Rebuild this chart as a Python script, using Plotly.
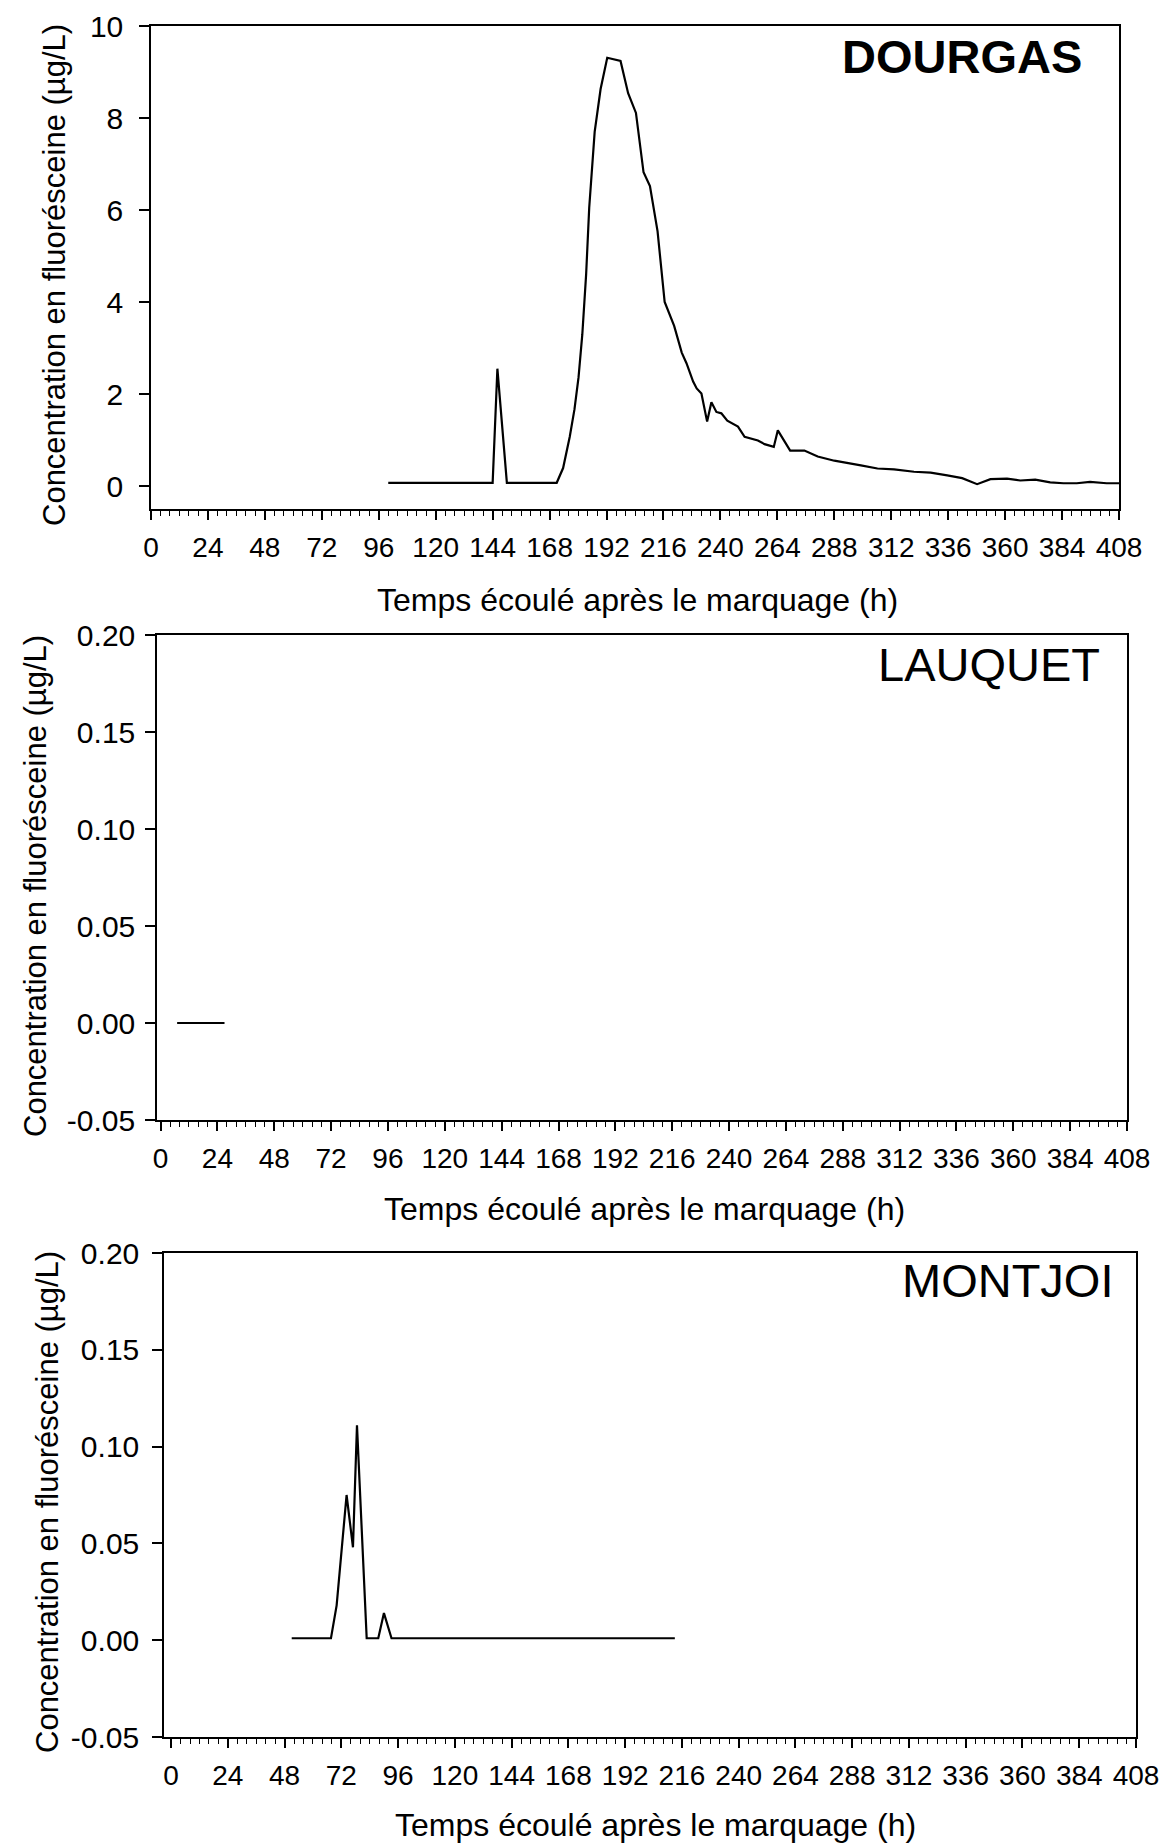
import plotly.graph_objects as go

W, H = 1161, 1847

# ---------------- data ----------------
x_ticks = list(range(0, 409, 24))

dourgas_h = [100, 144, 146, 150, 171, 173.7, 176.5, 178.5, 180.2, 181.8, 183.4, 184.7,
             187, 189.5, 192.3, 197.9, 201.1, 204.4, 207.6, 210.3, 213.5, 216.5, 220.5,
             223.7, 225.7, 228.5, 230, 232, 234.4, 236.2, 238.3, 240.4, 242.9, 245.3,
             247.4, 250.2, 253, 255.8, 258.6, 262.5, 264.2, 266.3, 269.4, 275.4, 281,
             288, 292.9, 299.2, 306.2, 313.2, 321.6, 328.6, 335.6, 341.9, 348.2, 353.8,
             360.8, 366.4, 372.7, 379, 384.6, 390.2, 395.8, 402.8, 408]
dourgas_c = [0.07, 0.07, 2.55, 0.07, 0.07, 0.39, 1.07, 1.67, 2.36, 3.3, 4.6, 6.05,
             7.7, 8.63, 9.31, 9.24, 8.54, 8.11, 6.82, 6.52, 5.54, 4.0, 3.48,
             2.9, 2.67, 2.27, 2.12, 2.01, 1.4, 1.82, 1.61, 1.58, 1.42, 1.36,
             1.29, 1.07, 1.03, 0.99, 0.91, 0.85, 1.21, 1.02, 0.77, 0.77, 0.64,
             0.55, 0.51, 0.45, 0.38, 0.36, 0.31, 0.29, 0.23, 0.17, 0.04, 0.15,
             0.16, 0.12, 0.14, 0.08, 0.06, 0.06, 0.09, 0.06, 0.06]

lauquet_h = [7, 27]
lauquet_c = [0.0, 0.0]

montjoi_h = [51, 67.6, 70, 74.2, 76.9, 78.6, 82.7, 87.6, 90, 93.2, 213]
montjoi_c = [0.001, 0.001, 0.018, 0.075, 0.048, 0.111, 0.001, 0.001, 0.014, 0.001, 0.001]

stations = ["DOURGAS", "LAUQUET", "MONTJOI"]
x_title = "Temps écoulé après le marquage (h)"
y_title = "Concentration en fluorésceine (µg/L)"

FONT = "Liberation Sans, Arial, sans-serif"

# ---------------- layout geometry (pixels) ----------------
panels = [
    # left, right, top, bottom, x-range start, y label standoff
    (151, 1119, 26, 509, 0, 10),
    (157, 1127, 635, 1120, -1.5, 4),
    (164, 1136, 1253, 1737, -3, 7),
]

def xd(l, r):
    return [l / W, r / W]

def yd(t, b):
    return [1 - b / H, 1 - t / H]

fig = go.Figure()

series = [(dourgas_h, dourgas_c), (lauquet_h, lauquet_c), (montjoi_h, montjoi_c)]
for i, (hx, cy) in enumerate(series):
    sfx = "" if i == 0 else str(i + 1)
    fig.add_trace(go.Scatter(x=hx, y=cy, mode="lines",
                             line=dict(color="black", width=2.2),
                             xaxis="x" + sfx, yaxis="y" + sfx,
                             showlegend=False, hoverinfo="skip"))

axis_common = dict(showline=True, linecolor="black", linewidth=1.5, mirror=True,
                   showgrid=False, zeroline=False, ticks="outside",
                   tickcolor="black", tickwidth=1.5, automargin=False)

layout = dict(width=W, height=H, autosize=False, template="none",
              margin=dict(l=0, r=0, t=0, b=0, pad=0),
              paper_bgcolor="white", plot_bgcolor="white",
              showlegend=False)

y_specs = [
    dict(range=[-0.5, 10], tickvals=[0, 2, 4, 6, 8, 10], ticktext=["0", "2", "4", "6", "8", "10"]),
    dict(range=[-0.05, 0.20], tickvals=[-0.05, 0, 0.05, 0.10, 0.15, 0.20],
         ticktext=["-0.05", "0.00", "0.05", "0.10", "0.15", "0.20"]),
    dict(range=[-0.05, 0.20], tickvals=[-0.05, 0, 0.05, 0.10, 0.15, 0.20],
         ticktext=["-0.05", "0.00", "0.05", "0.10", "0.15", "0.20"]),
]

for i, (l, r, t, b, x0, ystand) in enumerate(panels):
    sfx = "" if i == 0 else str(i + 1)
    layout["xaxis" + sfx] = dict(axis_common, domain=xd(l, r), range=[x0, 408],
                                 anchor="y" + sfx, tickvals=x_ticks,
                                 ticktext=[str(v) for v in x_ticks], ticklen=9,
                                 ticklabelstandoff=4,
                                 tickfont=dict(family=FONT, size=28, color="black"),
                                 minor=dict(dtick=4, tick0=0, ticks="outside", ticklen=5,
                                            tickcolor="black", tickwidth=1.2, showgrid=False))
    layout["yaxis" + sfx] = dict(axis_common, domain=yd(t, b), anchor="x" + sfx,
                                 ticklen=10, ticklabelstandoff=ystand,
                                 tickfont=dict(family=FONT, size=30, color="black"),
                                 **y_specs[i])

fig.update_layout(**layout)

ann = []
def add_text(px, py, text, size, angle=0, bold=False):
    ann.append(dict(xref="paper", yref="paper", x=px / W, y=1 - py / H,
                    text=("<b>%s</b>" % text) if bold else text, showarrow=False,
                    xanchor="center", yanchor="middle", textangle=angle,
                    font=dict(family=FONT, size=size, color="black")))

# x-axis titles
add_text(637, 600, x_title, 32)
add_text(644, 1209, x_title, 32)
add_text(655, 1825, x_title, 32)
# y-axis titles
add_text(55, 275, y_title, 31, angle=-90)
add_text(35, 886, y_title, 31, angle=-90)
add_text(47, 1502, y_title, 31, angle=-90)
# station names
add_text(962, 57, stations[0], 47, bold=True)
add_text(989, 665, stations[1], 47)
add_text(1007, 1280, stations[2], 47)

fig.update_layout(annotations=ann)

fig.write_html("out.html")
